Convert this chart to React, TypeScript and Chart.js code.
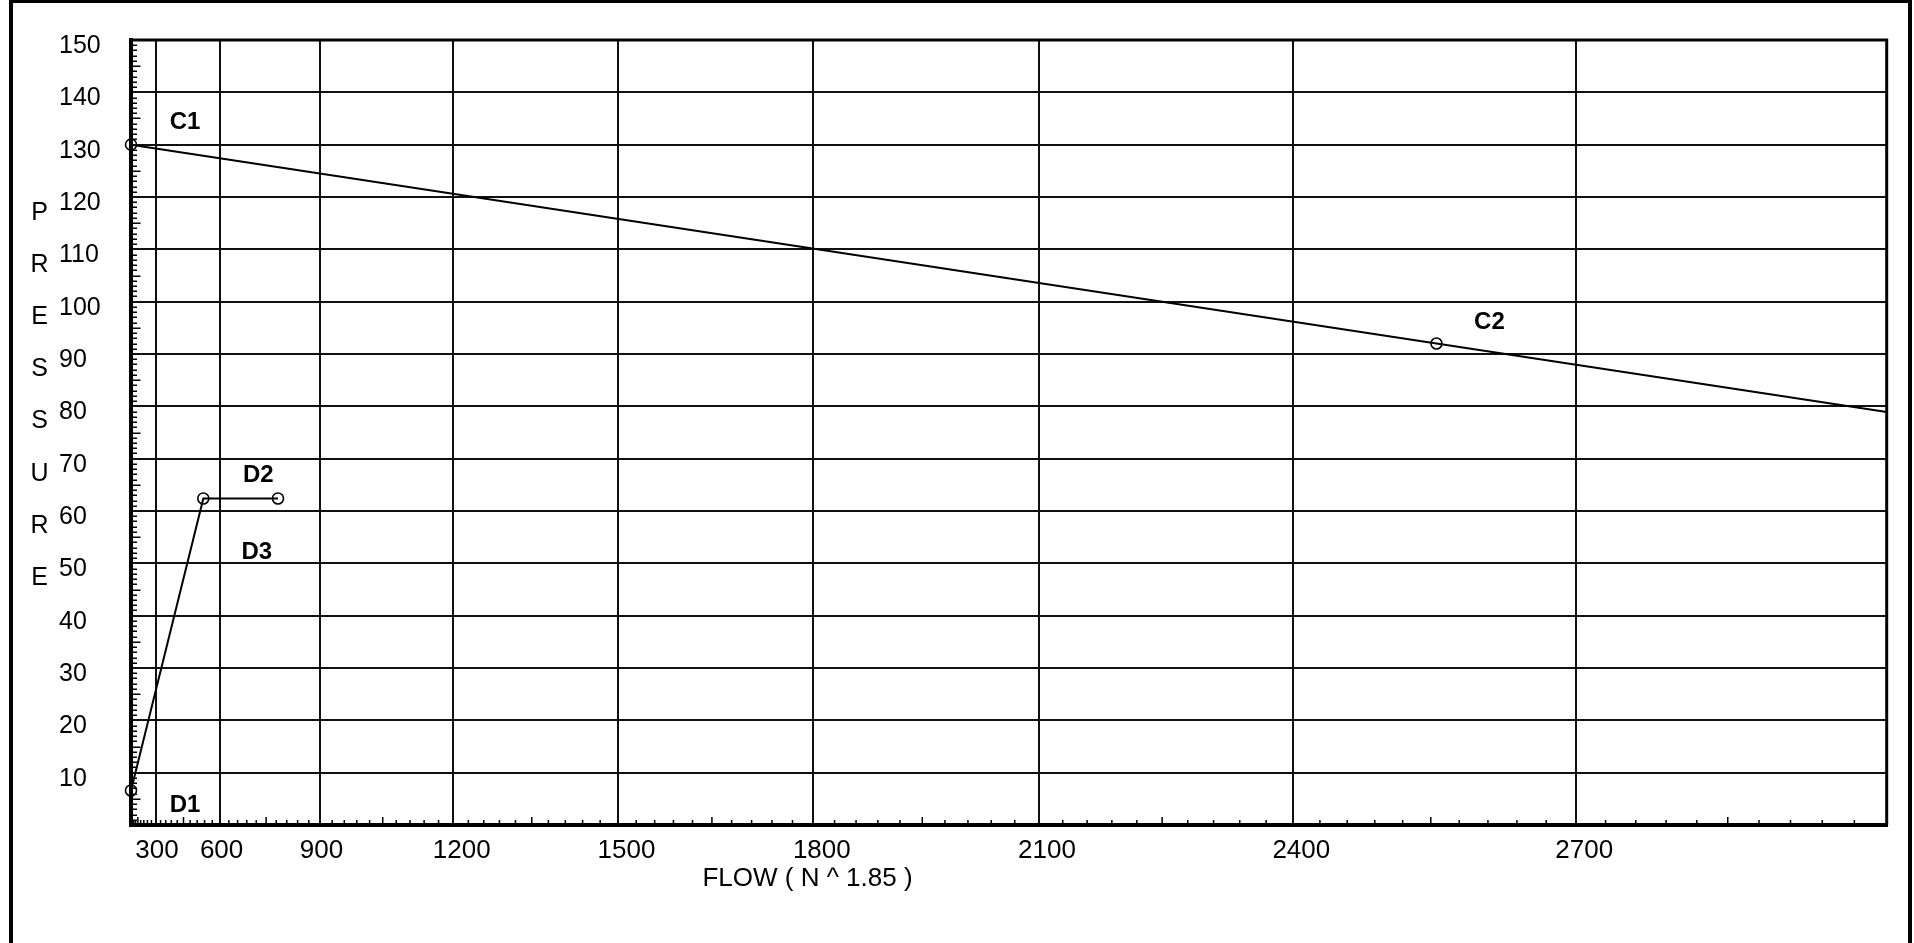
import { useEffect, useRef } from 'react';
import { Chart, registerables } from 'chart.js';

Chart.register(...registerables);

// ---- data ----
const FLOW_EXPONENT = 1.85;
const FLOW_MAX = 3000;
const PRESSURE_MAX = 150;
const FLOW_TICKS = [0, 300, 600, 900, 1200, 1500, 1800, 2100, 2400, 2700, 3000];
const FLOW_TICK_LABELS = ['', '300', '600', '900', '1200', '1500', '1800', '2100', '2400', '2700', ''];
const FLOW_MINOR_STEP = 30;
const FLOW_MID_STEP = 150;
const PRESSURE_STEP = 10;
const PRESSURE_MINOR_STEP = 1;
const PRESSURE_MID_STEP = 5;

const C_FLOW = [0, 2556, 3000];
const C_PRESSURE = [130, 92, 78.9];
const C_MARKER = [true, true, false];

const D_FLOW = [0, 535, 785];
const D_PRESSURE = [6.6, 62.4, 62.4];
const D_MARKER = [true, true, true];

const POINT_LABEL_TEXT = ['C1', 'C2', 'D1', 'D2', 'D3'];
const POINT_LABEL_SERIES = [0, 0, 1, 1, 1];
const POINT_LABEL_INDEX = [0, 1, 0, 1, 2];

const X_TITLE = 'FLOW ( N ^ 1.85 )';
const Y_TITLE = 'PRESSURE';

// ---- style ----
const FONT = "'Liberation Sans', Arial, Helvetica, sans-serif";
const LABEL_OFFSETS: [number, number][] = [
  [54, -22.7],
  [53, -20.8],
  [54, 15],
  [55, -23.2],
  [-21.2, 53.8],
];

const tr = (f: number) => Math.pow(f, FLOW_EXPONENT);

const decorPlugin = {
  id: 'decor',
  afterDraw(chart: any) {
    const { ctx, chartArea } = chart;
    const xs = chart.scales.x;
    const ys = chart.scales.y;
    const { left, right, top, bottom } = chartArea;
    ctx.save();
    ctx.strokeStyle = '#000';
    ctx.lineWidth = 1.5;
    ctx.beginPath();
    for (let v = PRESSURE_MINOR_STEP; v < PRESSURE_MAX; v += PRESSURE_MINOR_STEP) {
      if (v % PRESSURE_STEP === 0) continue;
      const len = v % PRESSURE_MID_STEP === 0 ? 9.5 : 6;
      const y = Math.round(ys.getPixelForValue(v)) + 0.25;
      ctx.moveTo(left, y);
      ctx.lineTo(left + len, y);
    }
    for (let f = FLOW_MINOR_STEP; f < FLOW_MAX; f += FLOW_MINOR_STEP) {
      if (f % 300 === 0) continue;
      const len = f % FLOW_MID_STEP === 0 ? 8 : 5;
      const x = xs.getPixelForValue(tr(f));
      ctx.moveTo(x, bottom);
      ctx.lineTo(x, bottom - len);
    }
    ctx.stroke();
    ctx.lineWidth = 3;
    ctx.beginPath();
    ctx.moveTo(left, top);
    ctx.lineTo(right, top);
    ctx.lineTo(right, bottom);
    ctx.stroke();

    ctx.fillStyle = '#000';
    ctx.font = `bold 24px ${FONT}`;
    ctx.textAlign = 'center';
    ctx.textBaseline = 'middle';
    POINT_LABEL_TEXT.forEach((t, i) => {
      const meta = chart.getDatasetMeta(POINT_LABEL_SERIES[i]);
      const el = meta.data[POINT_LABEL_INDEX[i]];
      if (!el) return;
      ctx.fillText(t, el.x + LABEL_OFFSETS[i][0], el.y + LABEL_OFFSETS[i][1]);
    });

    ctx.font = `26px ${FONT}`;
    ctx.fillText(X_TITLE, 807.5, 879);
    ctx.font = `25px ${FONT}`;
    Y_TITLE.split('').forEach((ch, i) => {
      ctx.fillText(ch, 39.5, 212.7 + 52.2 * i);
    });
    ctx.restore();
  },
};

function buildSeries(flows: number[], pressures: number[], markers: boolean[]) {
  return {
    data: flows.map((f, i) => ({ x: tr(f), y: pressures[i] })),
    showLine: true,
    borderColor: '#000',
    borderWidth: 2,
    tension: 0,
    pointRadius: markers.map((m) => (m ? 5.5 : 0)),
    pointBorderWidth: 1.6,
    pointBorderColor: '#000',
    pointBackgroundColor: 'rgba(0,0,0,0)',
    clip: false as any,
  };
}

export default function App() {
  const ref = useRef<HTMLCanvasElement>(null);
  useEffect(() => {
    if (!ref.current) return;
    const chart = new Chart(ref.current, {
      type: 'scatter',
      data: {
        datasets: [
          buildSeries(C_FLOW, C_PRESSURE, C_MARKER),
          buildSeries(D_FLOW, D_PRESSURE, D_MARKER),
        ] as any,
      },
      options: {
        responsive: false,
        animation: false,
        devicePixelRatio: 1,
        events: [],
        layout: { padding: { left: 59, top: 40, right: 27.3, bottom: 58 } },
        plugins: { legend: { display: false }, tooltip: { enabled: false } },
        scales: {
          x: {
            type: 'linear',
            min: 0,
            max: tr(FLOW_MAX),
            afterBuildTicks: (s: any) => {
              s.ticks = FLOW_TICKS.map((f) => ({ value: tr(f) }));
            },
            afterFit: (s: any) => {
              s.height = 60;
            },
            grid: { color: '#111', lineWidth: 2, drawTicks: false },
            border: { display: true, color: '#000', width: 4 },
            ticks: {
              autoSkip: false,
              maxRotation: 0,
              minRotation: 0,
              align: 'start',
              labelOffset: -20.5,
              padding: 10.5,
              color: '#000',
              font: { family: FONT, size: 26 },
              callback: (_v: any, i: number) => FLOW_TICK_LABELS[i] ?? '',
            },
          },
          y: {
            type: 'linear',
            min: 0,
            max: PRESSURE_MAX,
            afterFit: (s: any) => {
              s.width = 72;
            },
            grid: { color: '#111', lineWidth: 2, drawTicks: false },
            border: { display: true, color: '#000', width: 4 },
            ticks: {
              stepSize: PRESSURE_STEP,
              crossAlign: 'far',
              labelOffset: 6,
              color: '#000',
              font: { family: FONT, size: 25 },
              callback: (v: any) => (v === 0 ? '' : String(v)),
            },
          },
        },
      },
      plugins: [decorPlugin],
    } as any);
    return () => chart.destroy();
  }, []);

  return (
    <div
      style={{
        position: 'fixed',
        left: 0,
        top: 0,
        width: 1914,
        height: 943,
        overflow: 'hidden',
        background: '#fff',
      }}
    >
      <div
        style={{
          position: 'absolute',
          left: 9,
          top: -1,
          width: 1903,
          height: 1100,
          border: '4px solid #000',
          boxSizing: 'border-box',
        }}
      />
      <canvas
        ref={ref}
        width={1914}
        height={943}
        style={{ position: 'absolute', left: 0, top: 0, width: 1914, height: 943 }}
      />
    </div>
  );
}
